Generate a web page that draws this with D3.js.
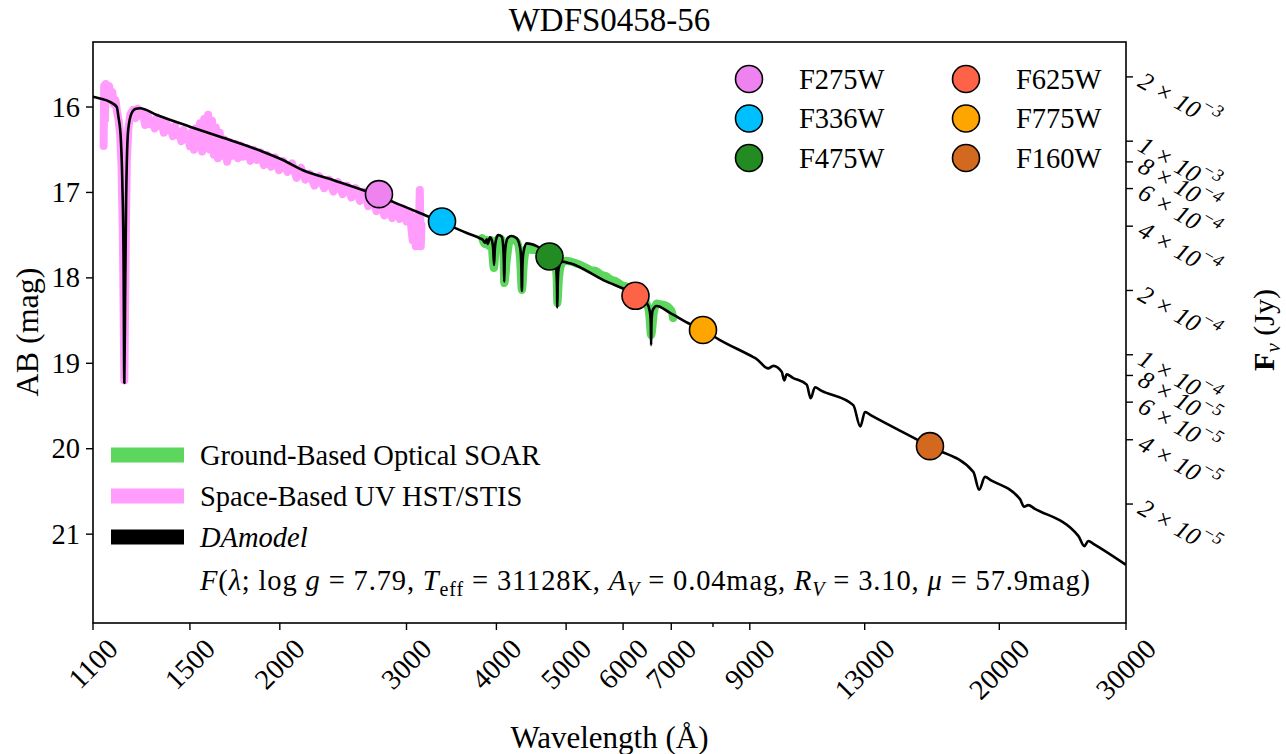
<!DOCTYPE html>
<html><head><meta charset="utf-8">
<script src="https://cdn.jsdelivr.net/npm/d3@7"></script>
<style>
body{margin:0;background:#fff}
svg{display:block}
text{font-family:"Liberation Serif","Times New Roman",serif;fill:#000}
</style></head>
<body><svg id="c" width="1286" height="754"></svg>
<script>
// ---------- data ----------
const modelWave=[1100,1125,1161,1187,1193,1202,1208,1213,1216,1219,1223,1231,1245,1262,1278,1349,1500,1668,1877,2020,2154,2371,2643,2873,3203,3361,3676,3796,3835,3857,3878,3889,3919,3945,3960,3970,3980,3995,4024,4069,4088,4096,4102,4108,4118,4150,4201,4268,4318,4332,4340,4348,4362,4408,4551,4749,4815,4845,4855,4861,4867,4880,4930,5063,5632,6247,6470,6535,6555,6563,6571,6595,6681,6972,7432,7746,8181,9102,9201,9546,9703,9968,10049,10128,10330,10798,10938,11087,11310,12534,12818,13012,13270,15984,18404,18751,19106,19480,21370,21655,21946,22380,25752,26252,26590,27100,30000];
const modelMag=[15.88,15.90,15.94,16.00,16.11,16.35,16.85,17.79,19.23,18.26,17.09,16.27,16.07,16.02,16.015,16.094,16.23,16.36,16.51,16.62,16.74,16.855,16.99,17.11,17.276,17.35,17.49,17.537,17.56,17.589,17.549,17.604,17.526,17.57,17.67,17.85,17.66,17.557,17.499,17.519,17.63,17.80,18.046,17.80,17.64,17.53,17.51,17.537,17.66,17.85,18.151,17.86,17.70,17.596,17.628,17.733,17.79,17.90,18.08,18.345,18.08,17.90,17.81,17.83,18.026,18.20,18.29,18.39,18.52,18.787,18.52,18.38,18.33,18.41,18.54,18.61,18.728,18.928,18.95,19.06,19.03,19.10,19.20,19.13,19.17,19.25,19.41,19.28,19.32,19.49,19.74,19.57,19.61,19.97,20.27,20.48,20.33,20.37,20.59,20.68,20.66,20.70,21.02,21.14,21.08,21.12,21.36];

const hstWave=[1138,1140,1143,1146,1152,1158,1164,1170,1176,1182,1188,1194,1200,1205,1210,1214,1216,1218,1222,1226,1232,1240,1250,1260,1270,1280,1290,1300,1310,1320,1330,1340,1350,1360,1370,1380,1390,1400,1410,1420,1430,1440,1450,1460,1470,1480,1490,1500,1510,1520,1530,1540,1550,1560,1570,1580,1590,1600,1610,1620,1630,1640,1650,1660,1675,1690,1705,1720,1735,1750,1765,1780,1800,1820,1840,1860,1880,1900,1920,1945,1970,1995,2020,2050,2080,2110,2140,2170,2200,2235,2270,2305,2340,2375,2410,2445,2480,2515,2550,2585,2620,2655,2690,2725,2760,2795,2830,2865,2900,2935,2970,3000,3030,3060,3075,3090,3105,3120,3130,3140,3148];
const hstMag=[16.457,15.754,16.152,15.731,15.80,15.754,15.871,15.824,15.965,15.918,16.059,16.152,16.328,16.679,17.44,18.611,19.197,18.611,17.44,16.621,16.246,16.082,16.035,16.13,16.02,16.10,16.06,16.21,16.09,16.20,16.16,16.25,16.12,16.22,16.18,16.30,16.17,16.27,16.24,16.34,16.22,16.33,16.30,16.40,16.27,16.37,16.33,16.46,16.29,16.50,16.25,16.44,16.19,16.52,16.14,16.42,16.09,16.50,16.16,16.56,16.24,16.60,16.30,16.57,16.38,16.64,16.41,16.57,16.43,16.60,16.45,16.58,16.48,16.63,16.50,16.62,16.53,16.68,16.56,16.70,16.59,16.74,16.63,16.76,16.66,16.83,16.71,16.85,16.78,16.92,16.81,16.95,16.85,16.99,16.88,17.02,16.92,17.06,16.95,17.10,16.99,17.16,17.04,17.22,17.10,17.27,17.13,17.30,17.16,17.31,17.19,17.34,17.22,17.56,17.29,17.63,17.34,17.60,16.97,17.63,17.38];

const soarWave=[3820,3857,3881,3906,3931,3968,3995,4033,4072,4092,4102,4138,4178,4218,4273,4314,4340,4369,4412,4483,4555,4628,4688,4749,4825,4849,4861,4887,4935,4998,5079,5161,5244,5328,5414,5502,5590,5681,5772,5865,5960,6056,6154,6253,6354,6466,6518,6563,6623,6687,6773,6861,6949,7016,7039];
const soarMag=[17.534,17.604,17.557,17.628,17.557,17.885,17.593,17.534,17.557,17.768,18.061,17.768,17.557,17.557,17.581,17.768,18.143,17.815,17.651,17.675,17.675,17.698,17.721,17.768,17.838,17.979,18.295,18.002,17.83,17.80,17.81,17.83,17.85,17.88,17.91,17.92,17.96,17.98,18.02,18.04,18.08,18.10,18.14,18.19,18.23,18.30,18.40,18.67,18.40,18.30,18.31,18.32,18.35,18.40,18.47];

const filterNames=["F275W","F336W","F475W","F625W","F775W","F160W"];
const filterWave=[2747,3361,4741,6243,7748,16020];
const filterMag=[17.02,17.34,17.75,18.21,18.61,19.97];
const filterColors=["#ee82ee","#00bfff","#228b22","#ff6347","#ffa500","#d2691e"];

const xTicks=[1100,1500,2000,3000,4000,5000,6000,7000,8000,9000,13000,20000,30000];
const xTickLabels=["1100","1500","2000","3000","4000","5000","6000","7000","","9000","13000","20000","30000"];
const yTicks=[16,17,18,19,20,21];
const fluxTicks=[2e-3,1e-3,8e-4,6e-4,4e-4,2e-4,1e-4,8e-5,6e-5,4e-5,2e-5];
const fluxMant=[2,1,8,6,4,2,1,8,6,4,2];
const fluxExp=[-3,-3,-4,-4,-4,-4,-4,-5,-5,-5,-5];

const magDomain=[15.239,22.04];
const waveDomain=[1100,30000];

// ---------- layout ----------
const L=93,R=1126,T=42,B=623;
const svg=d3.select("#c");
const x=d3.scaleLog().domain(waveDomain).range([L,R]);
const y=d3.scaleLinear().domain(magDomain).range([T,B]);
const ab2f=m=>3631*Math.pow(10,-0.4*m);
const yF=d3.scaleLog().domain(magDomain.map(ab2f)).range([T,B]);

svg.append("clipPath").attr("id","pc").append("rect").attr("x",L).attr("y",T).attr("width",R-L).attr("height",B-T);
const plot=svg.append("g").attr("clip-path","url(#pc)");
const line=d3.line().x(d=>x(d[0])).y(d=>y(d[1]));
const smooth=d3.line().x(d=>x(d[0])).y(d=>y(d[1])).curve(d3.curveMonotoneX);

plot.append("path").datum(d3.zip(hstWave,hstMag)).attr("d",line)
  .attr("fill","none").attr("stroke","#ff9cfc").attr("stroke-width",8).attr("stroke-linejoin","round").attr("stroke-linecap","round");
plot.append("path").datum(d3.zip(soarWave,soarMag)).attr("d",smooth)
  .attr("fill","none").attr("stroke","#5cd65c").attr("stroke-width",8).attr("stroke-linejoin","round").attr("stroke-linecap","round");
plot.append("path").datum(d3.zip(modelWave,modelMag)).attr("d",smooth)
  .attr("fill","none").attr("stroke","#000").attr("stroke-width",2.6).attr("stroke-linejoin","round");

plot.selectAll("circle.f").data(d3.range(filterNames.length)).enter().append("circle")
  .attr("cx",i=>x(filterWave[i])).attr("cy",i=>y(filterMag[i])).attr("r",13.5)
  .attr("fill",i=>filterColors[i]).attr("stroke","#000").attr("stroke-width",1.6);

// frame
svg.append("rect").attr("x",L).attr("y",T).attr("width",R-L).attr("height",B-T)
  .attr("fill","none").attr("stroke","#000").attr("stroke-width",1.6);

const FS=28.5;
// left ticks
yTicks.forEach(v=>{
  const ty=y(v);
  svg.append("line").attr("x1",L-7).attr("x2",L).attr("y1",ty).attr("y2",ty).attr("stroke","#000").attr("stroke-width",1.4);
  svg.append("text").attr("x",L-13).attr("y",ty).attr("text-anchor","end").attr("dominant-baseline","central").attr("font-size",FS).text(v);
});
// bottom ticks
xTicks.forEach((v,i)=>{
  const tx=x(v);
  const len=xTickLabels[i]===""?4:7;
  svg.append("line").attr("x1",tx).attr("x2",tx).attr("y1",B).attr("y2",B+len).attr("stroke","#000").attr("stroke-width",1.4);
  if(xTickLabels[i]==="") return;
  const t=svg.append("text").attr("text-anchor","middle").attr("dominant-baseline","central").attr("font-size",FS).text(xTickLabels[i]);
  const Lw=t.node().getComputedTextLength();
  const off=(Lw+FS*0.8)*0.7071/2;
  t.attr("transform",`translate(${tx},${B+13+off}) rotate(-45)`);
});
// right ticks
fluxTicks.forEach((v,i)=>{
  const ty=yF(v);
  svg.append("line").attr("x1",R).attr("x2",R+7).attr("y1",ty).attr("y2",ty).attr("stroke","#000").attr("stroke-width",1.4);
  const t=svg.append("text").attr("transform",`translate(${R+15},${ty+1}) rotate(30)`)
    .attr("font-size",25).attr("font-style","italic").attr("dominant-baseline","central");
  t.append("tspan").text(`${fluxMant[i]} × 10`);
  t.append("tspan").attr("dy",-10).attr("font-size",18).text(`−${-fluxExp[i]}`);
});

// titles
svg.append("text").attr("x",(L+R)/2).attr("y",31).attr("text-anchor","middle").attr("font-size",33).text("WDFS0458-56");
svg.append("text").attr("x",(L+R)/2).attr("y",748).attr("text-anchor","middle").attr("font-size",31).text("Wavelength (Å)");
svg.append("text").attr("transform","translate(38,332) rotate(-90)").attr("text-anchor","middle").attr("font-size",32).text("AB (mag)");
const fl=svg.append("text").attr("transform","translate(1274,330) rotate(-90)").attr("text-anchor","middle").attr("font-size",30);
fl.append("tspan").attr("font-weight","bold").text("F");
fl.append("tspan").attr("font-style","italic").attr("font-size",21).attr("dy",6).text("ν");
fl.append("tspan").attr("dy",-6).text(" (Jy)");

// top-right legend
const legCols=[749,966], legRows=[79,118.5,158];
filterNames.forEach((n,i)=>{
  const cx=legCols[Math.floor(i/3)], cy=legRows[i%3];
  svg.append("circle").attr("cx",cx).attr("cy",cy).attr("r",13.5).attr("fill",filterColors[i]).attr("stroke","#000").attr("stroke-width",1.6);
  svg.append("text").attr("x",cx+50).attr("y",cy).attr("dominant-baseline","central").attr("font-size",FS).text(n);
});

// bottom-left legend
const specNames=["Ground-Based Optical SOAR","Space-Based UV HST/STIS","DAmodel"];
const specColors=["#5cd65c","#ff9cfc","#000"];
const specRows=[455,496,537];
specNames.forEach((n,i)=>{
  svg.append("rect").attr("x",111).attr("y",specRows[i]-7.5).attr("width",73).attr("height",15).attr("fill",specColors[i]);
  svg.append("text").attr("x",200).attr("y",specRows[i]).attr("dominant-baseline","central").attr("font-size",FS)
    .attr("font-style",i===2?"italic":"normal").text(n);
});
const f=svg.append("text").attr("x",200).attr("y",590).attr("font-size",FS)
  .attr("textLength",890).attr("lengthAdjust","spacing");
const parts=[["F","i"],["(","n"],["λ","i"],["; log ","n"],["g","i"],[" = 7.79, ","n"],["T","i"],["eff","sub"],[" = 31128K, ","n"],["A","i"],["V","isub"],[" = 0.04mag, ","n"],["R","i"],["V","isub"],[" = 3.10, ","n"],["μ","i"],[" = 57.9mag)","n"]];
let sub=false;
parts.forEach(([s,k])=>{
  const ts=f.append("tspan").text(s);
  if(k==="i") ts.attr("font-style","italic");
  if(k==="sub"||k==="isub"){ts.attr("font-size",20).attr("dy",6); if(k==="isub") ts.attr("font-style","italic"); sub=true;}
  else if(sub){ts.attr("dy",-6); sub=false;}
});
</script>
</body></html>
